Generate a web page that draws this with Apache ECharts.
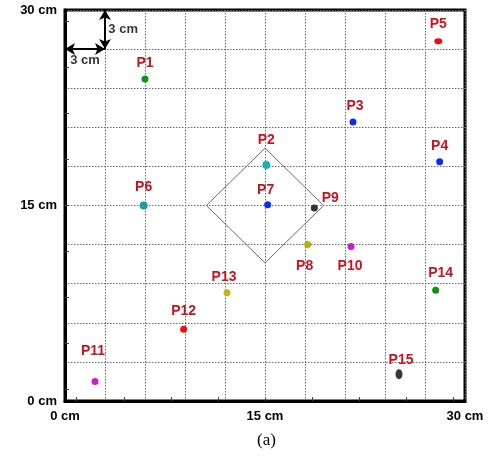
<!DOCTYPE html>
<html><head><meta charset="utf-8">
<script src="https://cdn.jsdelivr.net/npm/echarts@6/dist/echarts.min.js"></script>
<style>html,body{margin:0;padding:0;background:#fff}#c{width:491px;height:458px}</style>
</head><body><div id="c"></div>
<script>
// ---- data ----
const pointNames = ['P1','P2','P3','P4','P5','P6','P7','P8','P9','P10','P11','P12','P13','P14','P15'];
const pointX = [6.0, 15.1, 21.6, 28.1, 28.0, 5.9, 15.2, 18.2, 18.7, 21.45, 2.25, 8.9, 12.15, 27.8, 25.05];
const pointY = [24.7, 18.1, 21.4, 18.35, 27.6, 15.0, 15.05, 12.0, 14.8, 11.85, 1.5, 5.5, 8.3, 8.5, 2.05];
const diamondX = [15, 10.6, 15, 19.4, 15];
const diamondY = [19.4, 15, 10.6, 15, 19.4];
const axisLabelValues = [0, 15, 30];
const minorTickValues = [0.88, 4.41, 7.94, 11.47, 15, 18.53, 22.06, 25.59, 29.12];
const scaleBarV = [[3, 30], [3, 27]];
const scaleBarH = [[0, 27], [3, 27]];
const scaleBarText = ['3 cm', '3 cm'];

// ---- styles ----
const colors = {P1:'#129012',P2:'#18b0b0',P3:'#0c2cf0',P4:'#0c2cf0',P5:'#f00c0c',P6:'#14a0a0',P7:'#0c2cf0',
  P8:'#b8ae10',P9:'#333333',P10:'#c020d0',P11:'#c820c8',P12:'#e81010',P13:'#c4b818',P14:'#129012',P15:'#383838'};
const labelOffset = {P1:[0,-16],P2:[0,-25],P3:[2,-16],P4:[0,-16],P5:[0,-17],P6:[0,-18],P7:[-2,-15],P8:[-3,22],
  P9:[16,-10],P10:[-1,20],P11:[-2,-30],P12:[0,-18],P13:[-3,-16],P14:[5,-17],P15:[2,-14]};
const sizes = {P2:8,P6:8,P15:[7,10],P5:[8,6]};
const font = 'Liberation Sans, Arial, sans-serif';

const chart = echarts.init(document.getElementById('c'));
const pts = pointNames.map((n,i)=>({
  name:n, value:[pointX[i],pointY[i]],
  symbolSize: sizes[n] || 7,
  itemStyle:{color:colors[n], opacity:1},
  label:{show:true, formatter:n, position:'inside', offset:labelOffset[n],
    color:'#c8141e', fontWeight:'bold', fontSize:14, fontFamily:font, opacity:1}
}));
function mainAxis(margin){
  return {type:'value', min:0, max:30, interval:3,
    axisLine:{show:true, onZero:false, lineStyle:{color:'#000', width:3}},
    axisTick:{show:false},
    splitLine:{show:true, lineStyle:{color:'#6a6a6a', type:[1.5,1.5], width:1}},
    axisLabel:{customValues:axisLabelValues, formatter:v=>v+' cm', color:'#000', fontWeight:'bold', fontSize:13,
      fontFamily:font, margin:margin}};
}
function tickAxis(pos){
  return {type:'value', min:0, max:30, position:pos,
    axisLine:{show:false, onZero:false},
    axisTick:{show:true, inside:true, length:4, customValues:minorTickValues, lineStyle:{color:'#444', width:1}},
    splitLine:{show:false}, axisLabel:{show:false}};
}
chart.setOption({
  animation:false,
  grid:{left:65, right:26, top:10, bottom:57, show:true, borderColor:'#000', borderWidth:3, backgroundColor:'transparent'},
  xAxis:[Object.assign(mainAxis(9),{position:'bottom'}), tickAxis('bottom')],
  yAxis:[Object.assign(mainAxis(8),{position:'left'}), tickAxis('left')],
  series:[
    {type:'line', data:diamondX.map((x,i)=>[x,diamondY[i]]), symbol:'none', lineStyle:{color:'#6a6a6a', width:1}, z:2},
    {type:'line', data:[], markLine:{silent:true, symbol:['arrow','arrow'], symbolSize:[9,10],
      lineStyle:{color:'#000', width:2, type:'solid'}, label:{show:false},
      data:[[{coord:scaleBarV[0]},{coord:scaleBarV[1]}],[{coord:scaleBarH[0]},{coord:scaleBarH[1]}]]}},
    {type:'scatter', data:[[3.25,28.5],[1.5,26.1]].map((p,i)=>({value:p, label:{formatter:scaleBarText[i],
      align: i===0?'left':'center'}})), symbolSize:0,
      label:{show:true, position:'inside', color:'#000', fontWeight:'bold', fontSize:13, fontFamily:font}},
    {type:'scatter', data:pts, z:5}
  ],
  graphic:[{type:'text', left:257, top:432, style:{text:'(a)', font:'17px "Liberation Serif", serif', fill:'#000'}}]
});
</script></body></html>
